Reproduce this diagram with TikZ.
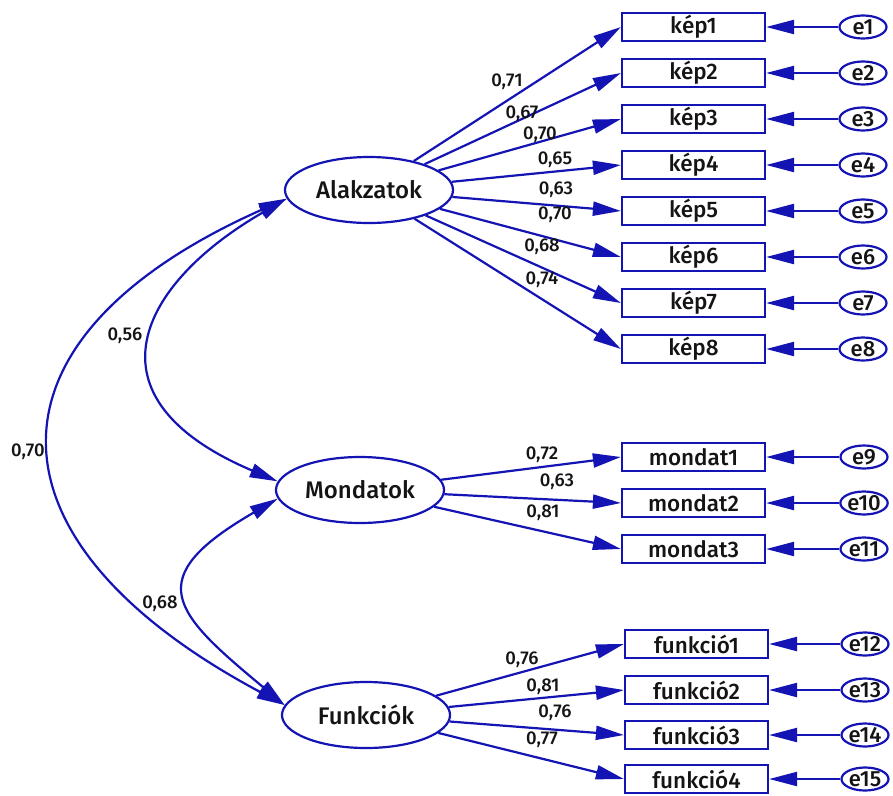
\documentclass[tikz,border=0pt]{standalone}
\usepackage{fontspec}
\setmainfont{Fira Sans}[UprightFont={Fira Sans Medium}]
\usetikzlibrary{arrows.meta,shapes.geometric}
\definecolor{semblue}{RGB}{20,20,180}
\definecolor{txt}{RGB}{20,20,20}
\begin{document}
\begin{tikzpicture}[x=1pt,y=-1pt,
 lat/.style={ellipse, draw=semblue, line width=2.2pt, minimum width=168pt, minimum height=66pt, inner sep=0pt, text=txt, font=\fontsize{24}{26}\selectfont},
 obs/.style={rectangle, draw=semblue, line width=2.2pt, minimum width=143pt, minimum height=28pt, inner sep=0pt, text=txt, font=\fontsize{22.5}{24}\selectfont},
 err/.style={ellipse, draw=semblue, line width=2.2pt, minimum width=47pt, minimum height=23pt, inner sep=0pt, text=txt, font=\fontsize{22}{24}\selectfont},
 coef/.style={inner sep=0pt, text=txt, font=\fontsize{18.5}{20}\selectfont},
 tip/.tip={Triangle[length=28pt,width=14pt]},
 arr/.style={draw=semblue, line width=2.2pt, -tip},
 biarr/.style={draw=semblue, line width=2.2pt, tip-tip}
]
\useasboundingbox[fill=white] (0,0) rectangle (893,795);

% latent variables
\node[lat] (A) at (369,190) {Alakzatok};
\node[lat] (M) at (360,490) {Mondatok};
\node[lat] (F) at (366,715) {Funkciók};

% observed variables and errors
\foreach \i/\y in {1/27,2/73,3/119,4/165,5/211,6/257,7/303,8/349}{
  \node[obs] (k\i) at (693.5,\y) {kép\i};
  \node[err] (e\i) at (863,\y) {e\i};
  \draw[arr] (e\i) -- (k\i);
  \draw[arr] (A) -- (k\i.west);
}
\foreach \i/\y/\e in {1/457/9,2/503/10,3/549/11}{
  \node[obs] (m\i) at (693.5,\y) {mondat\i};
  \node[err] (e\e) at (864,\y) {e\e};
  \draw[arr] (e\e) -- (m\i);
  \draw[arr] (M) -- (m\i.west);
}
\foreach \i/\y/\e in {1/644/12,2/690/13,3/735/14,4/779/15}{
  \node[obs] (f\i) at (696.5,\y) {funkció\i};
  \node[err] (e\e) at (865,\y) {e\e};
  \draw[arr] (e\e) -- (f\i);
  \draw[arr] (F) -- (f\i.west);
}

% loadings
\node[coef] (lk1) at (507,82) {0,71};
\node[coef] (lk2) at (522,114) {0,67};
\node[coef] (lk3) at (540,135) {0,70};
\node[coef] (lk4) at (555,160) {0,65};
\node[coef] (lk5) at (556,190) {0,63};
\node[coef] (lk6) at (555,215) {0,70};
\node[coef] (lk7) at (542,247) {0,68};
\node[coef] (lk8) at (542,280) {0,74};
\node[coef] (lm1) at (542,455) {0,72};
\node[coef] (lm2) at (557,482) {0,63};
\node[coef] (lm3) at (543,513) {0,81};
\node[coef] (lf1) at (522,660) {0,76};
\node[coef] (lf2) at (543,687) {0,81};
\node[coef] (lf3) at (555,713) {0,76};
\node[coef] (lf4) at (542,740) {0,77};

% covariances
\draw[biarr] (F.173) .. controls +(-306,-163) and +(-317,141) .. (A.186);
\draw[biarr] (A.186) .. controls +(-147,85) and +(-198,-84) .. (M.174);
\draw[biarr] (M.186) .. controls +(-138,80) and +(-112,-93) .. (F.173);
\node[coef] (c1) at (125,336) {0,56};
\node[coef] (c2) at (28,452) {0,70};
\node[coef] (c3) at (160,604) {0,68};
\end{tikzpicture}
\end{document}
